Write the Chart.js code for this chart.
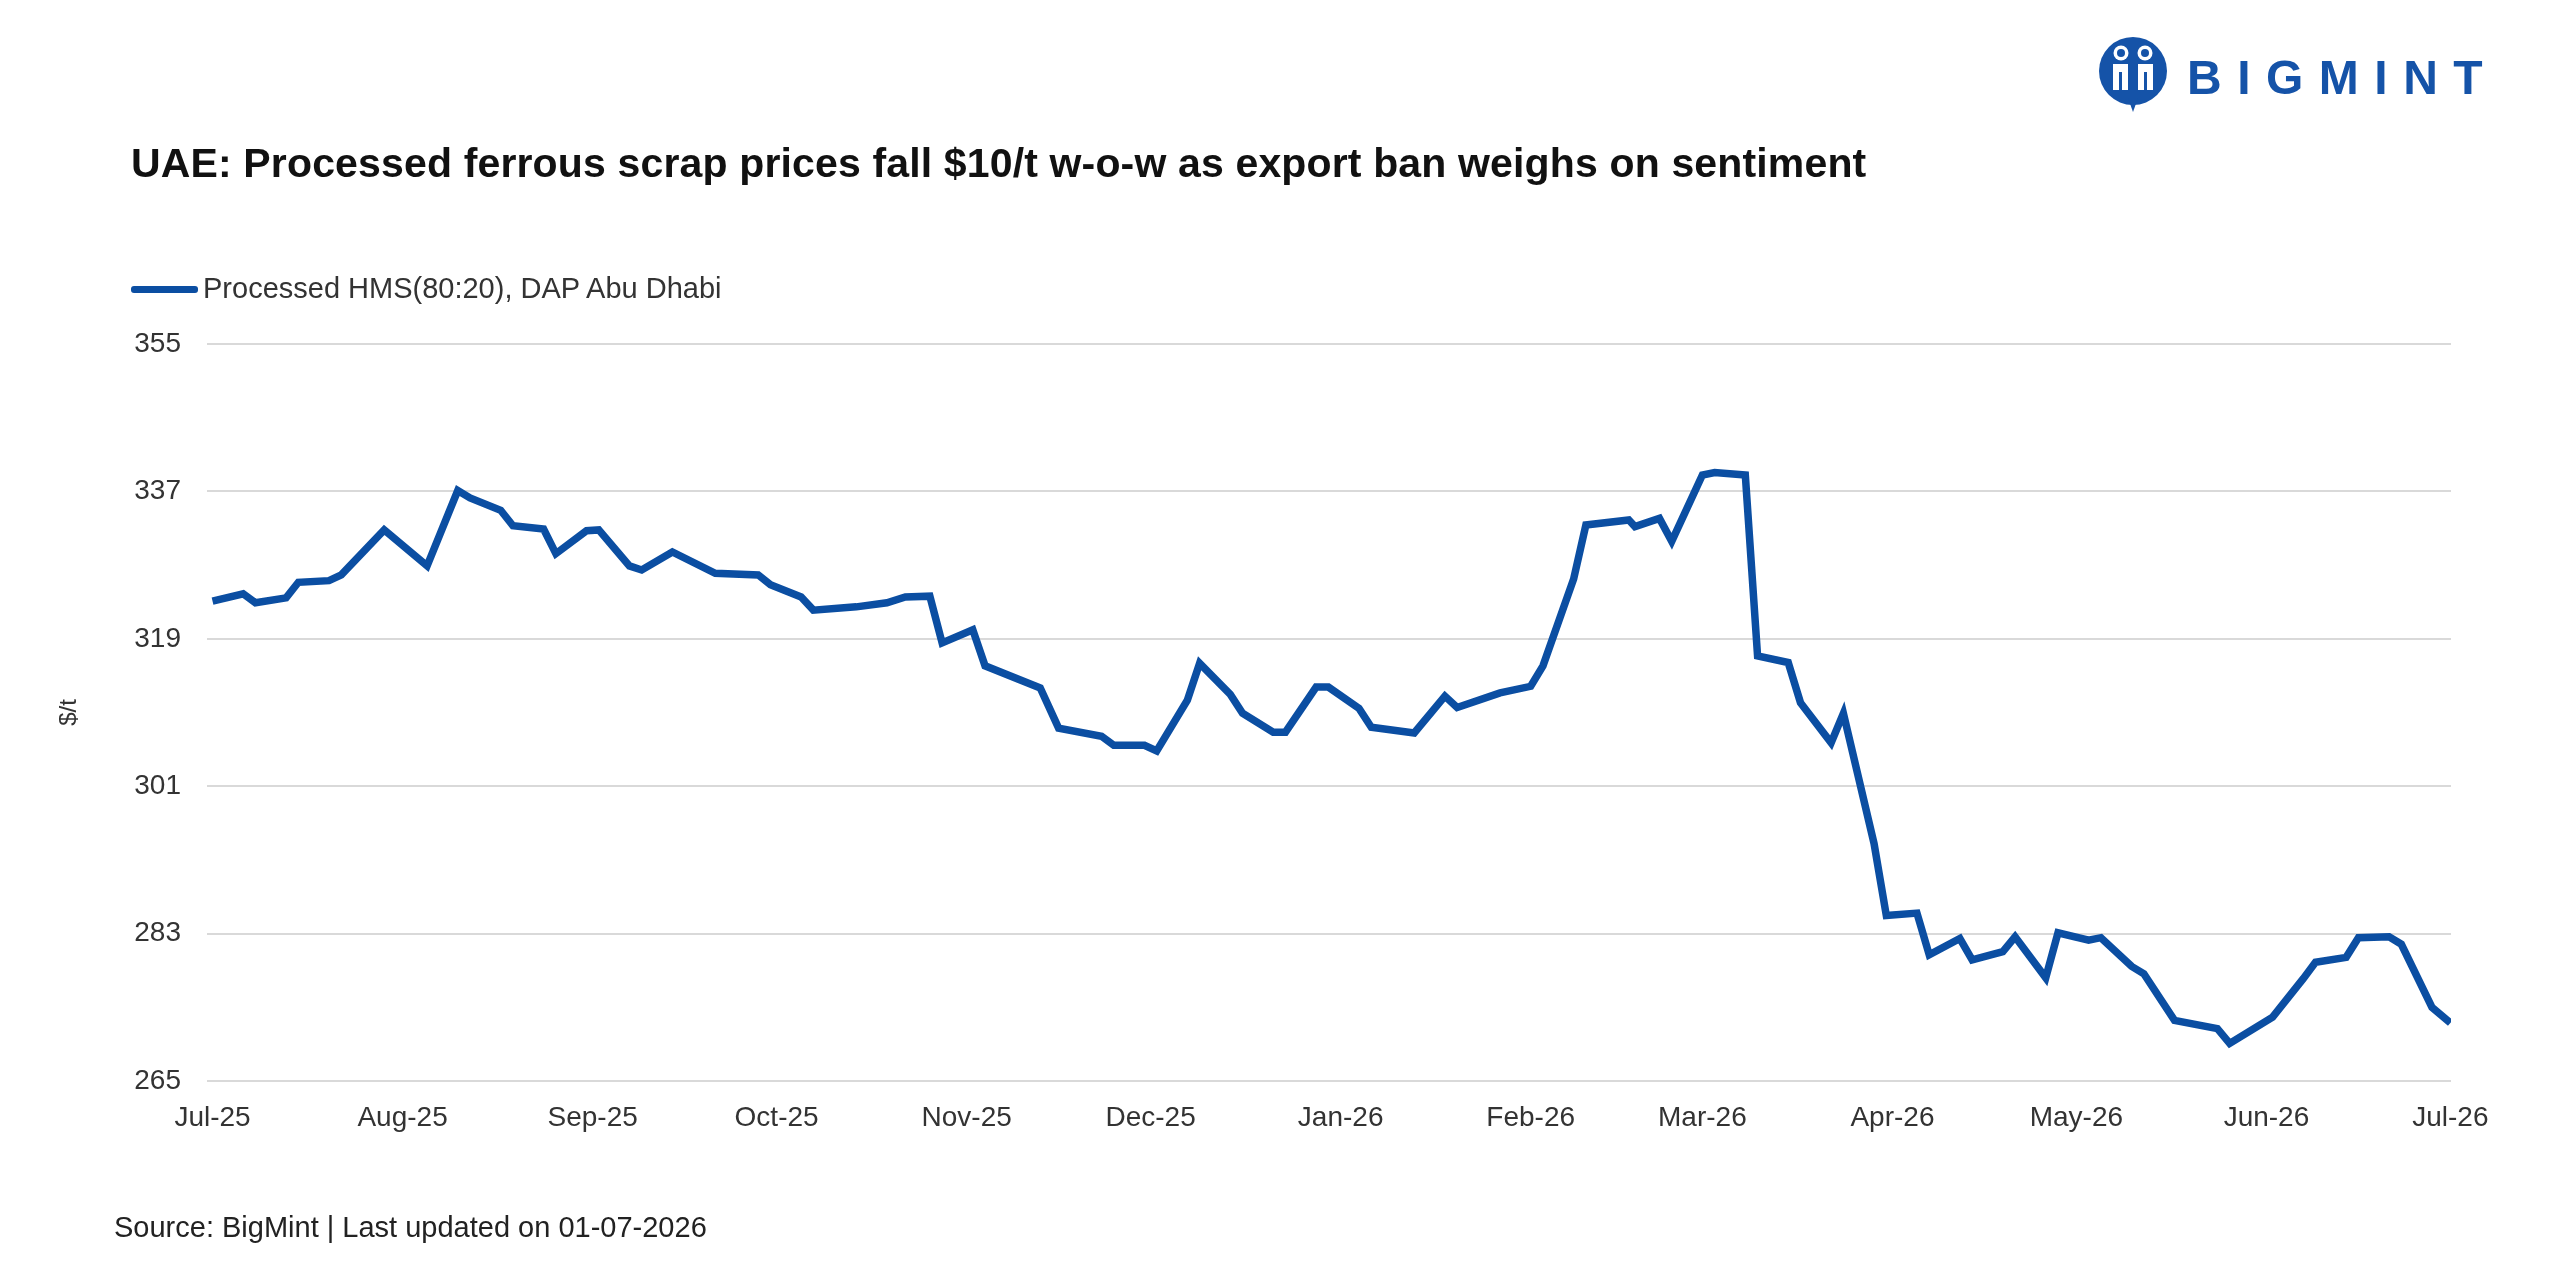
<!DOCTYPE html>
<html>
<head>
<meta charset="utf-8">
<script src="https://cdn.jsdelivr.net/npm/chart.js@4.4.1/dist/chart.umd.min.js"></script>
<style>
html,body{margin:0;padding:0;background:#fff;}
#wrap{position:relative;width:2560px;height:1280px;overflow:hidden;background:#fff;font-family:'Liberation Sans',Arial,sans-serif;}
#c{position:absolute;left:0;top:0;}
#title{position:absolute;left:131px;top:143px;font-weight:bold;font-size:41px;line-height:41px;letter-spacing:0.15px;color:#111;white-space:nowrap;}
#legend{position:absolute;left:131px;top:274px;height:30px;white-space:nowrap;}
#legend .sw{position:absolute;left:0;top:12px;width:67px;height:7px;border-radius:3px;background:#0B4EA2;}
#legend .tx{position:absolute;left:72px;top:0;font-size:29px;line-height:29px;color:#333;}
#source{position:absolute;left:114px;top:1213px;font-size:29px;line-height:29px;color:#222;white-space:nowrap;}
#logo{position:absolute;left:2092px;top:36px;}
#logotext{position:absolute;left:2187px;top:54px;font-weight:bold;font-size:48px;line-height:48px;letter-spacing:15.5px;color:#1553A8;white-space:nowrap;}
</style>
</head>
<body>
<div id="wrap">
  <canvas id="c" width="2560" height="1280"></canvas>
  <div id="title"></div>
  <div id="legend"><div class="sw"></div><div class="tx"></div></div>
  <div id="source"></div>
  <svg id="logo" width="82" height="76" viewBox="0 0 82 76">
    <circle cx="41" cy="35" r="34" fill="#1553A8"/>
    <circle cx="29" cy="17" r="7.5" fill="#fff"/>
    <circle cx="53" cy="17" r="7.5" fill="#fff"/>
    <circle cx="29" cy="17" r="4" fill="#1553A8"/>
    <circle cx="53" cy="17" r="4" fill="#1553A8"/>
    <path d="M21 28 h15 v26 h-6 v-18 h-3 v18 h-6z" fill="#fff"/>
    <path d="M46 28 h15 v26 h-6 v-18 h-3 v18 h-6z" fill="#fff"/>
    <path d="M36 62 L41 76 L46 62 Z" fill="#1553A8"/>
  </svg>
  <div id="logotext">BIGMINT</div>
</div>
<script>
// ---- data ----
const titleText = 'UAE: Processed ferrous scrap prices fall $10/t w-o-w as export ban weighs on sentiment';
const seriesName = 'Processed HMS(80:20), DAP Abu Dhabi';
const yTitle = '$/t';
const sourceText = 'Source: BigMint | Last updated on 01-07-2026';

const dates = [
  '2025-07-01','2025-07-06','2025-07-08','2025-07-13','2025-07-15','2025-07-20','2025-07-22','2025-07-29',
  '2025-08-05','2025-08-10','2025-08-12','2025-08-17','2025-08-19','2025-08-24','2025-08-26','2025-08-31',
  '2025-09-02','2025-09-07','2025-09-09','2025-09-14','2025-09-21','2025-09-28','2025-09-30',
  '2025-10-05','2025-10-07','2025-10-14','2025-10-19','2025-10-22','2025-10-26','2025-10-28',
  '2025-11-02','2025-11-04','2025-11-13','2025-11-16','2025-11-23','2025-11-25','2025-11-30',
  '2025-12-02','2025-12-07','2025-12-09','2025-12-14','2025-12-16','2025-12-21','2025-12-23','2025-12-28','2025-12-30',
  '2026-01-04','2026-01-06','2026-01-13','2026-01-18','2026-01-20','2026-01-27',
  '2026-02-01','2026-02-03','2026-02-08','2026-02-10','2026-02-17','2026-02-18','2026-02-22','2026-02-24',
  '2026-03-01','2026-03-03','2026-03-08','2026-03-10','2026-03-15','2026-03-17','2026-03-22','2026-03-24','2026-03-29','2026-03-31',
  '2026-04-05','2026-04-07','2026-04-12','2026-04-14','2026-04-19','2026-04-21','2026-04-26','2026-04-28',
  '2026-05-03','2026-05-05','2026-05-10','2026-05-12','2026-05-17','2026-05-24','2026-05-26',
  '2026-06-02','2026-06-07','2026-06-09','2026-06-14','2026-06-16','2026-06-21','2026-06-23','2026-06-28',
  '2026-07-01'
];
const prices = [
  323.6,324.5,323.4,324.0,325.9,326.1,326.8,332.3,
  327.9,337.1,336.2,334.7,332.8,332.4,329.4,332.2,
  332.3,327.9,327.4,329.6,327.0,326.8,325.6,
  324.1,322.5,322.9,323.4,324.1,324.2,318.5,
  320.1,315.7,313.0,308.1,307.1,306.0,306.0,
  305.3,311.5,316.0,312.2,309.9,307.6,307.6,313.1,313.1,
  310.5,308.2,307.5,312.0,310.6,312.4,
  313.2,315.7,326.3,332.9,333.5,332.7,333.7,330.9,
  339.0,339.3,339.0,316.9,316.1,311.2,306.3,309.9,294.0,285.2,
  285.5,280.4,282.4,279.8,280.8,282.6,277.6,283.1,
  282.2,282.5,279.0,278.1,272.4,271.4,269.6,
  272.8,277.5,279.5,280.1,282.5,282.6,281.7,274.0,
  272.1
];
const monthTicks = ['2025-07-01','2025-08-01','2025-09-01','2025-10-01','2025-11-01','2025-12-01',
  '2026-01-01','2026-02-01','2026-03-01','2026-04-01','2026-05-01','2026-06-01','2026-07-01'];
const monthLabels = ['Jul-25','Aug-25','Sep-25','Oct-25','Nov-25','Dec-25','Jan-26','Feb-26','Mar-26','Apr-26','May-26','Jun-26','Jul-26'];
const yTicks = [265,283,301,319,337,355];

// ---- text ----
document.getElementById('title').textContent = titleText;
document.querySelector('#legend .tx').textContent = seriesName;
document.getElementById('source').textContent = sourceText;

// ---- chart ----
const FONT = "'Liberation Sans', Arial, sans-serif";
const LINE = '#0B4EA2';
const DAY = 86400000;
const t0 = Date.UTC(2025, 6, 1);
const toDay = s => { const p = s.split('-').map(Number); return (Date.UTC(p[0], p[1]-1, p[2]) - t0) / DAY; };
const points = dates.map((d, i) => ({x: toDay(d), y: prices[i]}));
const tickDays = monthTicks.map(toDay);

new Chart(document.getElementById('c').getContext('2d'), {
  type: 'line',
  data: {
    datasets: [{
      label: seriesName,
      data: points,
      borderColor: LINE,
      backgroundColor: LINE,
      borderWidth: 7.5,
      pointRadius: 0,
      pointHoverRadius: 0,
      tension: 0,
      fill: false
    }]
  },
  options: {
    responsive: false,
    animation: false,
    devicePixelRatio: 1,
    layout: {padding: {left: 55, right: 109, top: 344, bottom: 139}},
    plugins: {legend: {display: false}, tooltip: {enabled: false}, title: {display: false}},
    scales: {
      x: {
        type: 'linear',
        min: -0.9,
        max: 365.1,
        grid: {display: false, drawTicks: false},
        border: {display: false},
        afterBuildTicks: s => { s.ticks = tickDays.map(v => ({value: v})); },
        afterFit: s => { s.height = 60; },
        ticks: {
          autoSkip: false, maxRotation: 0, minRotation: 0, padding: 20,
          color: '#333', font: {family: FONT, size: 28},
          callback: (v, i) => monthLabels[i]
        }
      },
      y: {
        min: 265,
        max: 355,
        afterBuildTicks: s => { s.ticks = yTicks.map(v => ({value: v})); },
        afterFit: s => { s.width = 152; },
        grid: {color: '#d9d9d9', lineWidth: 2, drawTicks: false},
        border: {display: false},
        ticks: {padding: 26, color: '#333', font: {family: FONT, size: 28}},
        title: {display: true, text: yTitle, color: '#333', font: {family: FONT, size: 24}, padding: 0}
      }
    }
  }
});
</script>
</body>
</html>
